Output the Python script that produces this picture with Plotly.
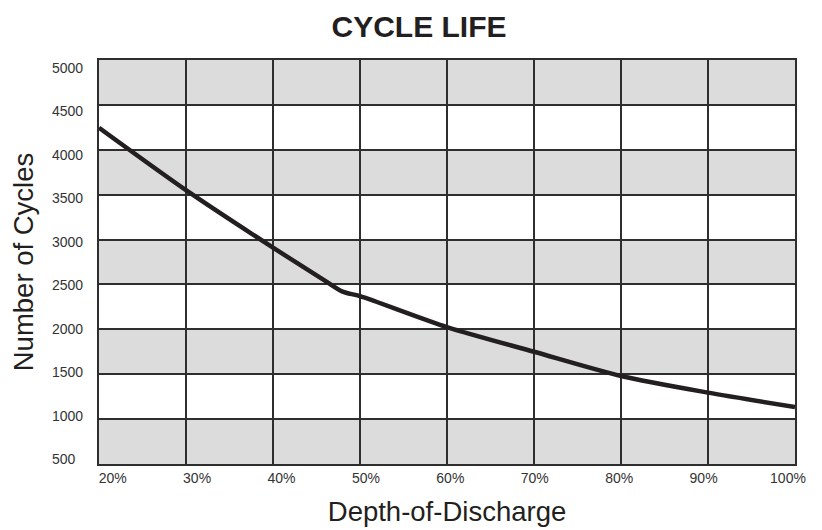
import plotly.graph_objects as go

# Data
dod = [20, 30, 40, 46, 48, 50, 60, 70, 80, 90, 100]
cycles = [4245, 3550, 2910, 2540, 2420, 2370, 2025, 1750, 1480, 1295, 1135]

x_ticks = [20, 30, 40, 50, 60, 70, 80, 90, 100]
x_labels = ["20%", "30%", "40%", "50%", "60%", "70%", "80%", "90%", "100%"]
y_ticks = [500, 1000, 1500, 2000, 2500, 3000, 3500, 4000, 4500, 5000]
y_labels = ["500", "1000", "1500", "2000", "2500", "3000", "3500", "4000", "4500", "5000"]

FONT = "Liberation Sans, Arial, Helvetica, sans-serif"
INK = "#231f20"
GRID = "#2e2e2e"
BAND = "#dcdcdc"

fig = go.Figure()
fig.add_trace(go.Scatter(
    x=dod, y=cycles, mode="lines",
    line=dict(color=INK, width=4.5, shape="spline", smoothing=0.8),
    hoverinfo="skip", showlegend=False,
))
# helper trace to create overlay axes used for the label placement
fig.add_trace(go.Scatter(x=[], y=[], xaxis="x2", yaxis="y2", showlegend=False))

shapes = []
for i in range(len(y_ticks) - 1):
    if i % 2 == 0:
        shapes.append(dict(type="rect", xref="x domain", yref="y",
                           x0=0, x1=1, y0=y_ticks[i], y1=y_ticks[i + 1],
                           fillcolor=BAND, line=dict(width=0), layer="below"))

annotations = []
for v, t in zip(y_ticks, y_labels):
    annotations.append(dict(xref="paper", yref="y2", x=-0.071, y=v, text=t,
                            xanchor="left", yanchor="middle", showarrow=False,
                            font=dict(family=FONT, size=14, color="#333333")))

fig.update_layout(
    width=822, height=530,
    margin=dict(l=91, r=35, t=52, b=74),
    paper_bgcolor="white", plot_bgcolor="white",
    title=dict(text="<b>CYCLE LIFE</b>", x=0.5, xanchor="center", y=0.965, yanchor="middle",
               font=dict(family=FONT, size=30, color=INK)),
    xaxis=dict(range=[20, 100], tickvals=x_ticks, showticklabels=False, ticks="",
               showgrid=True, gridcolor=GRID, gridwidth=1.5, zeroline=False,
               showline=True, mirror=True, linecolor=GRID, linewidth=1.5,
               automargin=False,
               title=dict(text="Depth-of-Discharge", standoff=37,
                          font=dict(family=FONT, size=27.5, color=INK))),
    xaxis2=dict(overlaying="x", anchor="y", side="bottom", range=[18.38, 100.83],
                tickvals=x_ticks, ticktext=x_labels, ticks="", showgrid=False,
                zeroline=False, showline=False, automargin=False,
                ticklabelstandoff=4,
                tickfont=dict(family=FONT, size=14, color="#333333")),
    yaxis=dict(range=[500, 5000], tickvals=y_ticks, showticklabels=False, ticks="",
               showgrid=True, gridcolor=GRID, gridwidth=1.5, zeroline=False,
               showline=True, mirror=True, linecolor=GRID, linewidth=1.5,
               automargin=False,
               title=dict(text="Number of Cycles", standoff=58,
                          font=dict(family=FONT, size=27.5, color=INK))),
    yaxis2=dict(overlaying="y", anchor="x", range=[442.4, 5092], visible=False,
                automargin=False),
    shapes=shapes,
    annotations=annotations,
)

fig.write_html("out.html")
